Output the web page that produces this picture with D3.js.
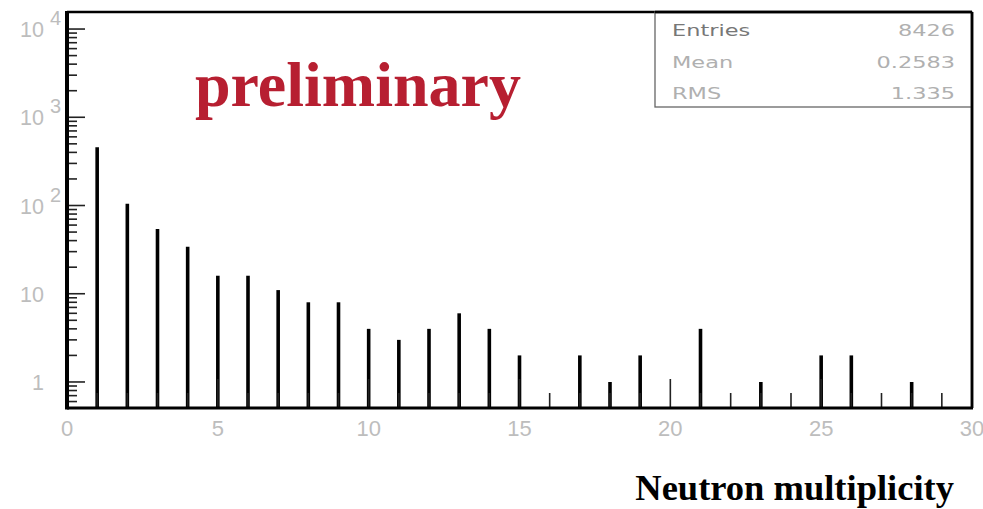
<!DOCTYPE html>
<html><head><meta charset="utf-8">
<script src="https://cdn.jsdelivr.net/npm/d3@7"></script>
<style>body{margin:0;background:#fff}svg{display:block}</style>
</head><body>
<svg id="c" width="983" height="509"></svg>
<script>
// ---- data ----
const multiplicity = [1,2,3,4,5,6,7,8,9,10,11,12,13,14,15,16,17,18,19,20,21,22,23,24,25,26,27,28,29];
const counts       = [456,105,54,34,16,16,11,8,8,4,3,4,6,4,2,0,2,1,2,0,4,0,1,0,2,2,0,1,0];
const xTickLabels  = [0,5,10,15,20,25,30];
const yTickValues  = [1,10,100,1000,10000];
const yTickLabels  = [["1",""],["10",""],["10","2"],["10","3"],["10","4"]];
const statNames    = ["Entries","Mean","RMS"];
const statValues   = ["8426","0.2583","1.335"];
const xDomain = [0,30];
const yDomain = [0.507,15600];

const svg = d3.select("#c");
const L=67, R=972, T=12, B=408;
const x = d3.scaleLinear().domain(xDomain).range([L,R]);
const y = d3.scaleLog().domain(yDomain).range([B,T]);
const gray = "#bdbdbd";

// bars
svg.append("g").selectAll("line").data(multiplicity.map((m,i)=>({m, c:counts[i]})).filter(d=>d.c>0))
  .join("line")
  .attr("x1",d=>x(d.m)).attr("x2",d=>x(d.m))
  .attr("y1",y(yDomain[0])).attr("y2",d=>y(d.c))
  .attr("stroke","#000").attr("stroke-width",3.6);

// x ticks (inside frame, pointing up)
const xt = svg.append("g");
d3.range(xDomain[0], xDomain[1]+1).forEach(v=>{
  const major = v%5===0;
  xt.append("line").attr("x1",x(v)).attr("x2",x(v))
    .attr("y1",B).attr("y2",B-(major?29:15))
    .attr("stroke","#222").attr("stroke-width",1.6);
});
// y ticks (inside frame, pointing right)
const yt = svg.append("g");
for (let e=-1; e<=4; e++){
  for (let k=1;k<=9;k++){
    const v = k*Math.pow(10,e);
    if (v<yDomain[0]||v>yDomain[1]) continue;
    const major = k===1;
    yt.append("line").attr("x1",L).attr("x2",L+(major?18:10))
      .attr("y1",y(v)).attr("y2",y(v))
      .attr("stroke","#222").attr("stroke-width",1.6);
  }
}

// frame
svg.append("line").attr("x1",L).attr("x2",R).attr("y1",T).attr("y2",T).attr("stroke","#000").attr("stroke-width",2.5);
svg.append("line").attr("x1",R).attr("x2",R).attr("y1",T).attr("y2",B).attr("stroke","#000").attr("stroke-width",2.5);
svg.append("line").attr("x1",L).attr("x2",R+1).attr("y1",B).attr("y2",B).attr("stroke","#000").attr("stroke-width",3.2);
svg.append("line").attr("x1",L).attr("x2",L).attr("y1",T-1).attr("y2",B+1.5).attr("stroke","#000").attr("stroke-width",4);

// x labels
svg.append("g").selectAll("text").data(xTickLabels).join("text")
  .attr("x",d=>x(d)).attr("y",436)
  .attr("text-anchor","middle")
  .attr("font-family","Liberation Sans, Arial, sans-serif").attr("font-size",22)
  .attr("fill",gray).text(d=>d);

// y labels
const yl = svg.append("g").attr("font-family","Liberation Sans, Arial, sans-serif").attr("fill",gray);
yTickValues.forEach((v,i)=>{
  const [base,exp]=yTickLabels[i];
  yl.append("text").attr("x",44).attr("y",y(v)+8).attr("text-anchor","end").attr("font-size",21.5).text(base);
  if (exp) yl.append("text").attr("x",50).attr("y",y(v)-4).attr("font-size",20).text(exp);
});

// stats box
svg.append("rect").attr("x",655).attr("y",T).attr("width",R-655).attr("height",107-T)
  .attr("fill","none").attr("stroke","#666").attr("stroke-width",1.3);
svg.append("line").attr("x1",655).attr("x2",R).attr("y1",T).attr("y2",T).attr("stroke","#000").attr("stroke-width",2.5);
svg.append("line").attr("x1",R).attr("x2",R).attr("y1",T).attr("y2",B).attr("stroke","#000").attr("stroke-width",2.5);
const sb = svg.append("g").attr("font-family","DejaVu Sans, sans-serif").attr("font-size",16.5);
statNames.forEach((n,i)=>{
  const by = 36 + i*31.5;
  sb.append("g").attr("transform",`translate(672,${by}) scale(1.36,1)`)
    .append("text").attr("fill",i===0?"#777":"#b0b0b0").text(n);
  sb.append("g").attr("transform",`translate(955,${by}) scale(1.36,1)`)
    .append("text").attr("text-anchor","end").attr("fill","#b0b0b0").text(statValues[i]);
});

// preliminary
svg.append("text").attr("x",195).attr("y",106)
  .attr("font-family","Liberation Serif, Times New Roman, serif").attr("font-weight","bold")
  .attr("font-size",64).attr("fill","#b71f31").text("preliminary");

// axis title
svg.append("text").attr("x",954).attr("y",500).attr("text-anchor","end")
  .attr("font-family","Liberation Serif, Times New Roman, serif").attr("font-weight","bold")
  .attr("font-size",36.5).attr("fill","#000").text("Neutron multiplicity");
</script>
</body></html>
